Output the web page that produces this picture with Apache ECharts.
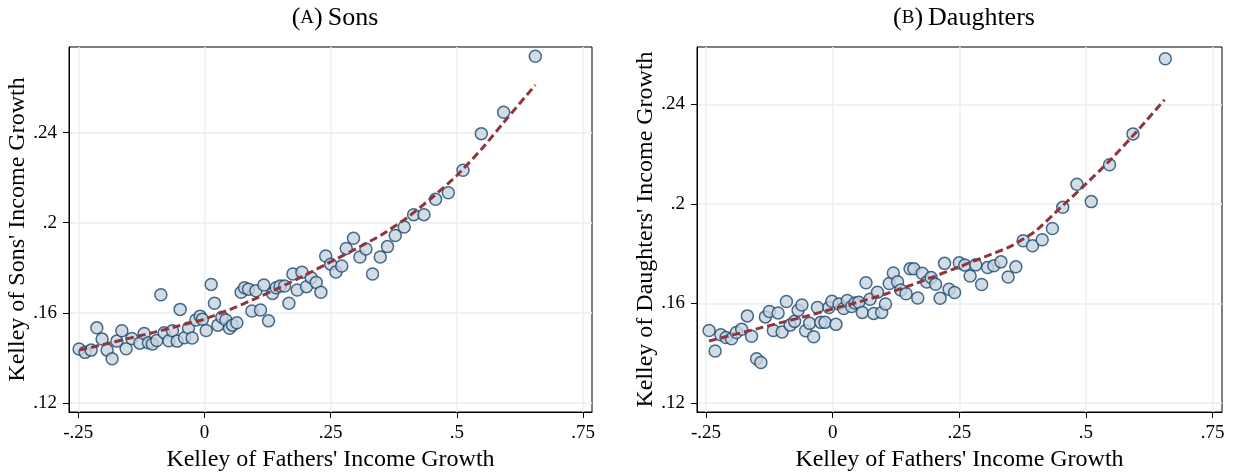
<!DOCTYPE html>
<html><head><meta charset="utf-8">
<script src="https://cdn.jsdelivr.net/npm/echarts@6/dist/echarts.min.js"></script>
<style>html,body{margin:0;padding:0;background:#fff}#c{width:1239px;height:472px}</style>
</head><body><div id="c"></div>
<script>
const sonsX = [-0.2484,-0.2365,-0.2246,-0.2133,-0.2028,-0.1929,-0.1830,-0.1736,-0.1637,-0.1552,
-0.1439,-0.1280,-0.1195,-0.1110,-0.1031,-0.0944,-0.0864,-0.0799,-0.0706,-0.0634,
-0.0541,-0.0482,-0.0396,-0.0317,-0.0244,-0.0170,-0.0085,-0.0040,0.0034,0.0133,
0.0198,0.0266,0.0345,0.0424,0.0496,0.0555,0.0642,0.0727,0.0793,0.0872,
0.0940,0.1019,0.1110,0.1177,0.1269,0.1348,0.1421,0.1500,0.1586,0.1673,
0.1752,0.1837,0.1931,0.2022,0.2115,0.2214,0.2307,0.2402,0.2501,0.2605,
0.2720,0.2809,0.2953,0.3080,0.3199,0.3330,0.3483,0.3627,0.3780,0.3958,
0.4143,0.4349,0.4579,0.4831,0.5122,0.5485,0.5927,0.6555];
const sonsY = [0.1439,0.1424,0.1434,0.1533,0.1483,0.1434,0.1396,0.1474,0.1520,0.1440,
0.1486,0.1465,0.1508,0.1467,0.1461,0.1477,0.1680,0.1511,0.1476,0.1520,
0.1474,0.1615,0.1489,0.1532,0.1488,0.1568,0.1585,0.1571,0.1521,0.1726,
0.1642,0.1545,0.1580,0.1568,0.1531,0.1545,0.1556,0.1691,0.1711,0.1705,
0.1608,0.1698,0.1612,0.1723,0.1564,0.1686,0.1711,0.1719,0.1719,0.1642,
0.1772,0.1701,0.1780,0.1716,0.1756,0.1735,0.1691,0.1852,0.1816,0.1781,
0.1808,0.1886,0.1931,0.1848,0.1883,0.1772,0.1848,0.1894,0.1943,0.1981,
0.2036,0.2036,0.2104,0.2133,0.2233,0.2396,0.2491,0.2740];
const daughtersX = [-0.2439,-0.2320,-0.2208,-0.2105,-0.1996,-0.1901,-0.1796,-0.1684,-0.1601,-0.1502,
-0.1417,-0.1328,-0.1249,-0.1170,-0.1077,-0.0998,-0.0913,-0.0840,-0.0751,-0.0682,
-0.0607,-0.0534,-0.0455,-0.0375,-0.0300,-0.0235,-0.0152,-0.0073,-0.0014,0.0065,
0.0125,0.0217,0.0289,0.0375,0.0441,0.0516,0.0585,0.0658,0.0737,0.0810,
0.0885,0.0968,0.1043,0.1117,0.1198,0.1281,0.1344,0.1449,0.1528,0.1603,
0.1680,0.1769,0.1858,0.1943,0.2032,0.2121,0.2209,0.2298,0.2407,0.2500,
0.2609,0.2713,0.2826,0.2941,0.3059,0.3182,0.3322,0.3464,0.3617,0.3761,
0.3945,0.4136,0.4338,0.4542,0.4822,0.5105,0.5466,0.5929,0.6567];
const daughtersY = [0.1491,0.1409,0.1474,0.1463,0.1458,0.1483,0.1496,0.1550,0.1468,0.1378,
0.1363,0.1546,0.1568,0.1491,0.1562,0.1485,0.1608,0.1513,0.1528,0.1573,
0.1594,0.1490,0.1520,0.1466,0.1584,0.1524,0.1524,0.1584,0.1609,0.1516,
0.1598,0.1580,0.1612,0.1588,0.1602,0.1605,0.1564,0.1683,0.1617,0.1560,
0.1645,0.1564,0.1598,0.1680,0.1722,0.1687,0.1654,0.1639,0.1739,0.1739,
0.1622,0.1721,0.1686,0.1704,0.1677,0.1621,0.1761,0.1657,0.1644,0.1763,
0.1754,0.1710,0.1755,0.1676,0.1744,0.1751,0.1767,0.1706,0.1747,0.1852,
0.1832,0.1856,0.1901,0.1986,0.2079,0.2009,0.2157,0.2281,0.2583];
const sonsFitX = [-0.248,-0.20,-0.15,-0.10,-0.05,0,0.05,0.10,0.15,0.20,0.25,0.30,0.35,0.40,0.45,0.50,0.55,0.60,0.6555];
const sonsFitY = [0.1434,0.1459,0.1486,0.1513,0.1542,0.1572,0.1614,0.1662,0.1713,0.1768,0.1826,0.1884,0.1945,0.2020,0.2110,0.2210,0.2330,0.2465,0.2612];
const daughtersFitX = [-0.244,-0.20,-0.15,-0.10,-0.05,0,0.05,0.10,0.15,0.20,0.25,0.30,0.35,0.40,0.45,0.50,0.55,0.60,0.655];
const daughtersFitY = [0.1449,0.1472,0.1498,0.1524,0.1550,0.1578,0.1605,0.1635,0.1670,0.1708,0.1747,0.1787,0.1828,0.1890,0.1985,0.2080,0.2180,0.2290,0.2418];
const xTicks = [-0.25,0,0.25,0.5,0.75];
const sonsYTicks = [0.12,0.16,0.2,0.24];
const daughtersYTicks = [0.12,0.16,0.2,0.24];

const FONT = 'Liberation Serif';
function fmt(v){
  if (Math.abs(v) < 1e-9) return '0';
  const s = String(+v.toFixed(4));
  return s.replace(/^(-?)0\./, '$1.');
}
function pairs(xs, ys){ return xs.map((x,i)=>[x, ys[i]]); }

function xAxis(gi, min, max){
  return {
    type:'value', gridIndex:gi, min:min, max:max,
    name:"Kelley of Fathers' Income Growth", nameLocation:'middle', nameGap:32,
    nameTextStyle:{fontFamily:FONT, fontSize:24, color:'#000'},
    axisLine:{show:true, onZero:false, lineStyle:{color:'#000', width:1}},
    axisTick:{show:true, customValues:xTicks, length:6, lineStyle:{color:'#000', width:1}},
    axisLabel:{customValues:xTicks, formatter:fmt, fontFamily:FONT, fontSize:19, color:'#000', margin:12},
    splitLine:{show:true, lineStyle:{color:'#e8f1f3', width:1.5}}
  };
}
function yAxis(gi, min, max, ticks, name){
  return {
    type:'value', gridIndex:gi, min:min, max:max,
    name:name, nameLocation:'middle', nameGap:37,
    nameTextStyle:{fontFamily:FONT, fontSize:24, color:'#000'},
    axisLine:{show:true, onZero:false, lineStyle:{color:'#000', width:1}},
    axisTick:{show:true, customValues:ticks, length:6, lineStyle:{color:'#000', width:1}},
    axisLabel:{customValues:ticks, formatter:fmt, fontFamily:FONT, fontSize:19, color:'#000', margin:12},
    splitLine:{show:true, lineStyle:{color:'#e8f1f3', width:1.5}}
  };
}
const pointStyle = {color:'#c7d3df', borderColor:'#1a476f', borderWidth:1.5};
const fitStyle = {color:'#90353b', width:3, type:[8,4]};
const richT = {
  p:{fontFamily:FONT, fontSize:26, fontWeight:'normal', color:'#000'},
  s:{fontFamily:FONT, fontSize:19, fontWeight:'normal', color:'#000'}
};

const chart = echarts.init(document.getElementById('c'), null, {renderer:'canvas'});
chart.setOption({
  animation:false,
  backgroundColor:'#fff',
  title:[
    {text:'{p|(}{s|A}{p|)} {p|Sons}', left:330, top:0, textAlign:'center', textStyle:{fontWeight:'normal', rich:richT}},
    {text:'{p|(}{s|B}{p|)} {p|Daughters}', left:959, top:0, textAlign:'center', textStyle:{fontWeight:'normal', rich:richT}}
  ],
  grid:[
    {left:69, top:47, width:523, height:365, show:true, borderColor:'#000', borderWidth:1, backgroundColor:'transparent', outerBoundsMode:'none', containLabel:false},
    {left:697, top:47, width:525, height:365, show:true, borderColor:'#000', borderWidth:1, backgroundColor:'transparent', outerBoundsMode:'none', containLabel:false}
  ],
  xAxis:[ xAxis(0, -0.2684, 0.7678), xAxis(1, -0.2678, 0.7686) ],
  yAxis:[ yAxis(0, 0.1159, 0.2781, sonsYTicks, "Kelley of Sons' Income Growth"),
          yAxis(1, 0.1164, 0.263, daughtersYTicks, "Kelley of Daughters' Income Growth") ],
  series:[
    {type:'scatter', xAxisIndex:0, yAxisIndex:0, data:pairs(sonsX, sonsY), symbol:'circle', symbolSize:12, itemStyle:pointStyle, z:2},
    {type:'line', xAxisIndex:0, yAxisIndex:0, data:pairs(sonsFitX, sonsFitY), showSymbol:false, symbol:'none', smooth:0.2, lineStyle:fitStyle, z:3},
    {type:'scatter', xAxisIndex:1, yAxisIndex:1, data:pairs(daughtersX, daughtersY), symbol:'circle', symbolSize:12, itemStyle:pointStyle, z:2},
    {type:'line', xAxisIndex:1, yAxisIndex:1, data:pairs(daughtersFitX, daughtersFitY), showSymbol:false, symbol:'none', smooth:0.2, lineStyle:fitStyle, z:3}
  ]
});
</script>
</body></html>
